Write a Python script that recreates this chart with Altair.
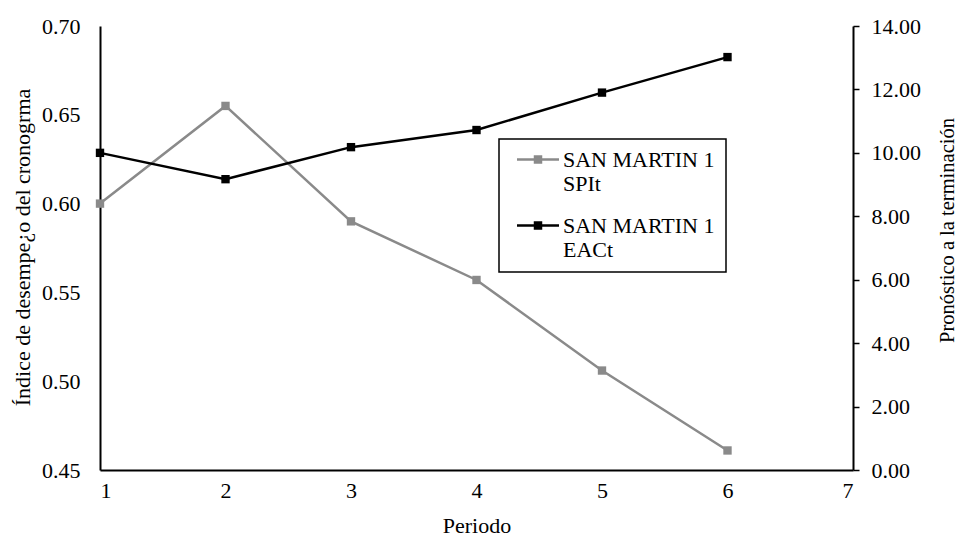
import altair as alt
import pandas as pd

# Series values per period
periodos = [1, 2, 3, 4, 5, 6]
spi_t = [0.600, 0.655, 0.590, 0.557, 0.506, 0.461]
eac_t = [10.00, 9.17, 10.18, 10.72, 11.90, 13.02]

# Series names (the "|" marks the line break in the legend)
serie_spi = "SAN MARTIN 1|SPIt"
serie_eac = "SAN MARTIN 1|EACt"

# Axis tick values
x_ticks = [1, 2, 3, 4, 5, 6, 7]
spi_ticks = [0.45, 0.50, 0.55, 0.60, 0.65, 0.70]
eac_ticks = [0, 2, 4, 6, 8, 10, 12, 14]

FONT = "Liberation Serif"
GRIS = "#8a8a8a"
FS = 22

fuente = dict(
    labelFont=FONT, labelFontSize=FS, labelColor="black",
    titleFont=FONT, titleFontSize=FS, titleColor="black", titleFontWeight="normal",
)

df_spi = pd.DataFrame({"Periodo": periodos, "valor": spi_t, "serie": serie_spi})
df_eac = pd.DataFrame({"Periodo": periodos, "valor": eac_t, "serie": serie_eac})

x_enc = alt.X(
    "Periodo:Q",
    scale=alt.Scale(domain=[1, 7], nice=False, zero=False),
    axis=alt.Axis(
        values=x_ticks, format="d", ticks=False, tickSize=0, labelPadding=10,
        grid=False, title="Periodo", titleY=62, titleBaseline="alphabetic",
        domainColor="black", domainWidth=2, **fuente,
    ),
)

# legend symbol (symbolSize 992 -> 1 unit = 15.75 px): a line with a small
# filled square, raised to the middle of the first line of each label
simbolo = (
    "M-0.635,-0.476H2.032"
    "M0.429,-0.667H0.968M0.429,-0.540H0.968"
    "M0.429,-0.413H0.968M0.429,-0.286H0.968"
)

color_enc = alt.Color(
    "serie:N",
    scale=alt.Scale(domain=[serie_spi, serie_eac], range=[GRIS, "black"]),
    legend=alt.Legend(
        orient="none", legendX=399, legendY=113, title=None, direction="vertical",
        strokeColor="black", fillColor="white", padding=11,
        labelFont=FONT, labelFontSize=FS, labelColor="black",
        labelExpr="split(datum.label, '|')", labelLimit=400, labelOffset=19,
        labelBaseline="alphabetic", symbolType=simbolo, symbolSize=992,
        symbolStrokeWidth=2.5, rowPadding=20,
    ),
)

punto = alt.OverlayMarkDef(shape="square", filled=True, size=70, opacity=1)

spi_layer = alt.Chart(df_spi).mark_line(strokeWidth=2.5, point=punto).encode(
    x=x_enc,
    y=alt.Y(
        "valor:Q",
        scale=alt.Scale(domain=[0.45, 0.70], nice=False, zero=False),
        axis=alt.Axis(
            orient="left", values=spi_ticks, format=".2f", ticks=False, tickSize=0,
            labelPadding=20, grid=False, domainColor="black", domainWidth=2,
            title="Índice de desempe¿o del cronogrma", titleAngle=270,
            titleX=-78, titleY=221, titleAlign="center", titleBaseline="middle",
            **fuente,
        ),
    ),
    color=color_enc,
)

eac_layer = alt.Chart(df_eac).mark_line(strokeWidth=2.5, point=punto).encode(
    x=x_enc,
    y=alt.Y(
        "valor:Q",
        scale=alt.Scale(domain=[0, 14], nice=False, zero=True),
        axis=alt.Axis(
            orient="right", values=eac_ticks, format=".2f", tickSize=6,
            tickColor="black", tickWidth=1.5, labelPadding=12, grid=False,
            domainColor="black", domainWidth=2,
            title="Pronóstico a la terminación", titleAngle=270,
            titleX=94, titleY=204, titleAlign="center", titleBaseline="middle",
            **{**fuente, "titleFontSize": 20.5},
        ),
    ),
    color=color_enc,
)

chart = (
    alt.layer(spi_layer, eac_layer)
    .resolve_scale(y="independent")
    .properties(
        width=753, height=444,
        padding={"left": 100, "top": 26, "right": 107, "bottom": 68},
        autosize=alt.AutoSizeParams(type="none"),
        background="white",
    )
    .configure_view(stroke=None)
    .configure_axis(**fuente)
    .configure_legend(strokeWidth=1.5)
)

chart.save("out.html", embed_options={"renderer": "svg", "actions": False})
